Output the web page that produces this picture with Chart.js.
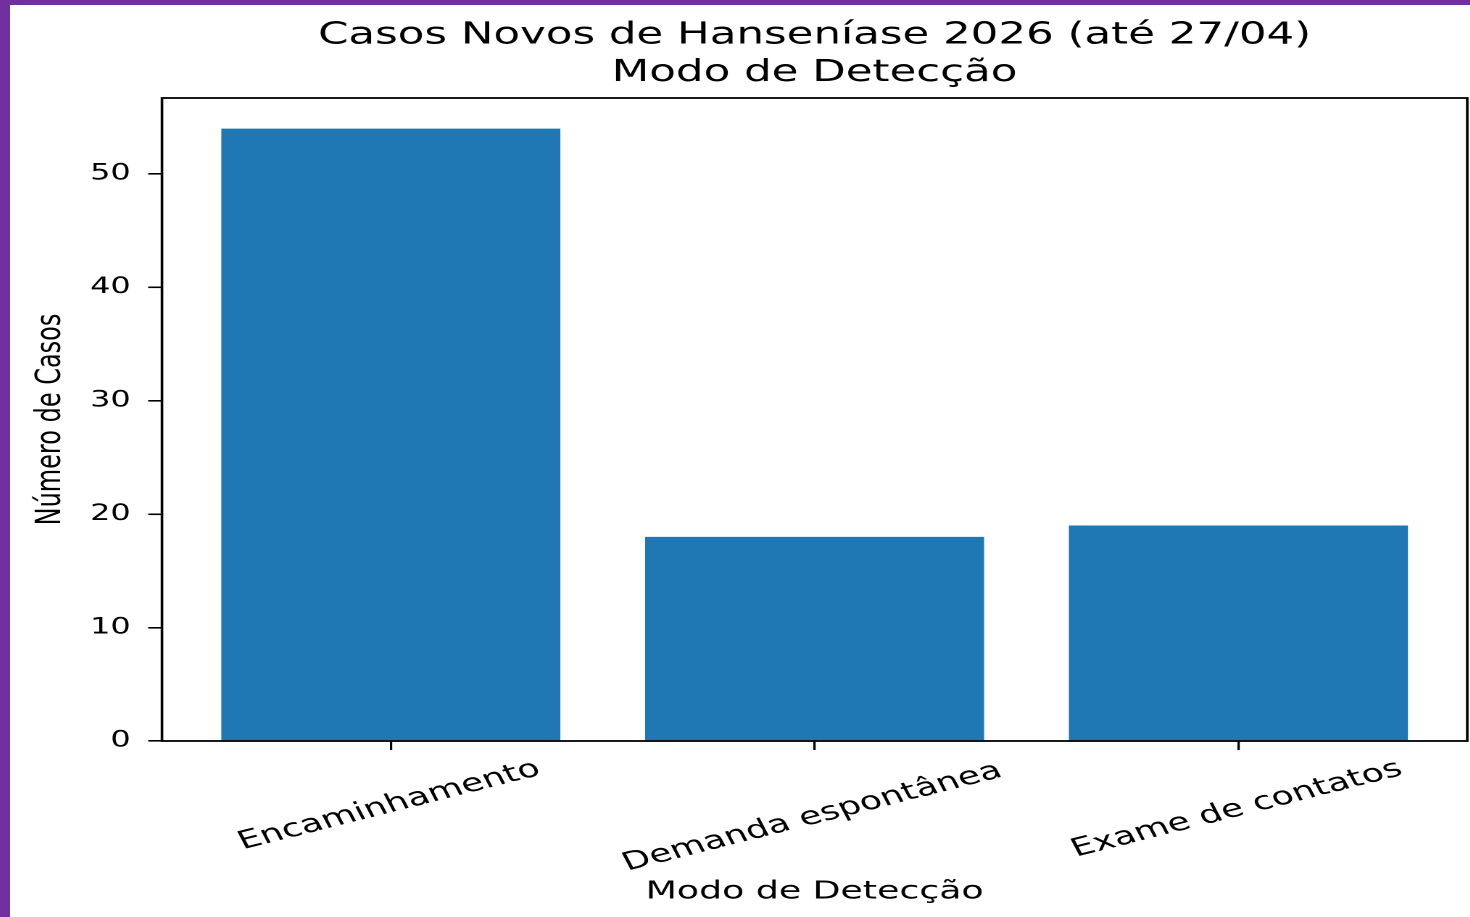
<!DOCTYPE html>
<html lang="pt-BR">
<head>
<meta charset="utf-8">
<title>Casos Novos de Hanseníase 2026</title>
<script src="https://cdn.jsdelivr.net/npm/chart.js@4"></script>
<style>
  html, body { margin: 0; padding: 0; background: #7030a0; overflow: hidden; }
  /* folha branca deixando a faixa roxa em cima e à esquerda */
  #folha { position: absolute; left: 10px; top: 5px; width: 1460px; height: 912px; background: #fff; overflow: hidden; }
  /* a figura original vem esticada na horizontal */
  #caixa { width: 1007px; height: 912px; transform: scaleX(1.45); transform-origin: 0 0; }
</style>
</head>
<body>
<div id="folha">
  <div id="caixa"><canvas id="grafico"></canvas></div>
</div>
<script>
// dados
const categorias = ["Encaminhamento", "Demanda espontânea", "Exame de contatos"];
const casos = [54, 18, 19];
const marcasY = [0, 10, 20, 30, 40, 50];
const eixoYMax = 56.7;
const eixoXMin = -0.54;
const eixoXMax = 2.54;

const titulo = ["Casos Novos de Hanseníase 2026 (até 27/04)", "Modo de Detecção"];
const fonte = "DejaVu Sans";

// moldura em volta da área do gráfico
const moldura = {
  id: "moldura",
  afterDatasetsDraw(chart) {
    const { ctx, chartArea: a } = chart;
    ctx.save();
    ctx.strokeStyle = "#000";
    ctx.lineWidth = 1.8;
    ctx.strokeRect(a.left, a.top, a.right - a.left, a.bottom - a.top);
    ctx.restore();
  }
};

// rótulos do eixo x girados 20 graus e centrados na marca
const rotulosX = {
  id: "rotulosX",
  afterDraw(chart) {
    const { ctx } = chart;
    const escala = chart.scales.x;
    const ang = 20 * Math.PI / 180;
    ctx.save();
    ctx.font = "25px '" + fonte + "'";
    ctx.fillStyle = "#000";
    ctx.textAlign = "center";
    ctx.textBaseline = "alphabetic";
    escala.ticks.forEach((t, i) => {
      const txt = categorias[i];
      const m = ctx.measureText(txt);
      const w = m.actualBoundingBoxLeft + m.actualBoundingBoxRight;
      const h = m.actualBoundingBoxAscent + m.actualBoundingBoxDescent;
      const alt = w * Math.sin(ang) + h * Math.cos(ang);
      const px = escala.getPixelForValue(t.value) - 2;
      const py = escala.top + 16 + alt / 2;
      ctx.save();
      ctx.translate(px, py);
      ctx.rotate(-ang);
      ctx.fillText(txt, 0, (m.actualBoundingBoxAscent - m.actualBoundingBoxDescent) / 2);
      ctx.restore();
    });
    ctx.restore();
  }
};

new Chart(document.querySelector("#grafico"), {
  type: "bar",
  data: {
    datasets: [
      {
        label: "Casos",
        data: casos.map((v, i) => ({ x: i, y: v })),
        backgroundColor: "#1f77b4",
        barPercentage: 0.8,
        categoryPercentage: 1,
        xAxisID: "x",
        yAxisID: "y"
      }
    ]
  },
  options: {
    responsive: true,
    maintainAspectRatio: false,
    devicePixelRatio: 2,
    animation: false,
    layout: { padding: { left: 0, right: 2, top: 0, bottom: 0 } },
    plugins: {
      legend: { display: false },
      tooltip: { enabled: false }
    },
    scales: {
      x: {
        type: "linear",
        position: "bottom",
        offset: false,
        min: eixoXMin,
        max: eixoXMax,
        afterBuildTicks: (s) => { s.ticks = categorias.map((c, i) => ({ value: i })); },
        afterFit: (s) => { s.height = 176; },
        ticks: { display: false },
        grid: { offset: false, drawOnChartArea: false, drawTicks: true, tickLength: 9, color: "#000", lineWidth: 1.6 },
        border: { display: false },
        title: {
          display: true,
          text: "Modo de Detecção",
          color: "#000",
          font: { family: fonte, size: 25 },
          padding: { top: 0, bottom: 10 }
        }
      },
      topo: {
        type: "linear",
        position: "top",
        offset: false,
        min: eixoXMin,
        max: eixoXMax,
        afterFit: (s) => { s.height = 93; },
        ticks: { display: false },
        grid: { display: false },
        border: { display: false },
        title: {
          display: true,
          text: titulo,
          color: "#000",
          font: { family: fonte, size: 30, lineHeight: 1.25 },
          padding: { top: 12, bottom: 0 }
        }
      },
      y: {
        position: "left",
        min: 0,
        max: eixoYMax,
        afterBuildTicks: (s) => { s.ticks = marcasY.map((v) => ({ value: v })); },
        afterFit: (s) => { s.width = 104.8; },
        ticks: { color: "#000", font: { family: fonte, size: 22 }, padding: 12 },
        grid: { drawOnChartArea: false, drawTicks: true, tickLength: 9.5, color: "#000", lineWidth: 1.6 },
        border: { display: false },
        title: {
          display: true,
          text: "Número de Casos",
          color: "#000",
          font: { family: fonte, size: 24 },
          padding: { top: 14, bottom: 0 }
        }
      }
    }
  },
  plugins: [moldura, rotulosX]
});
</script>
</body>
</html>
